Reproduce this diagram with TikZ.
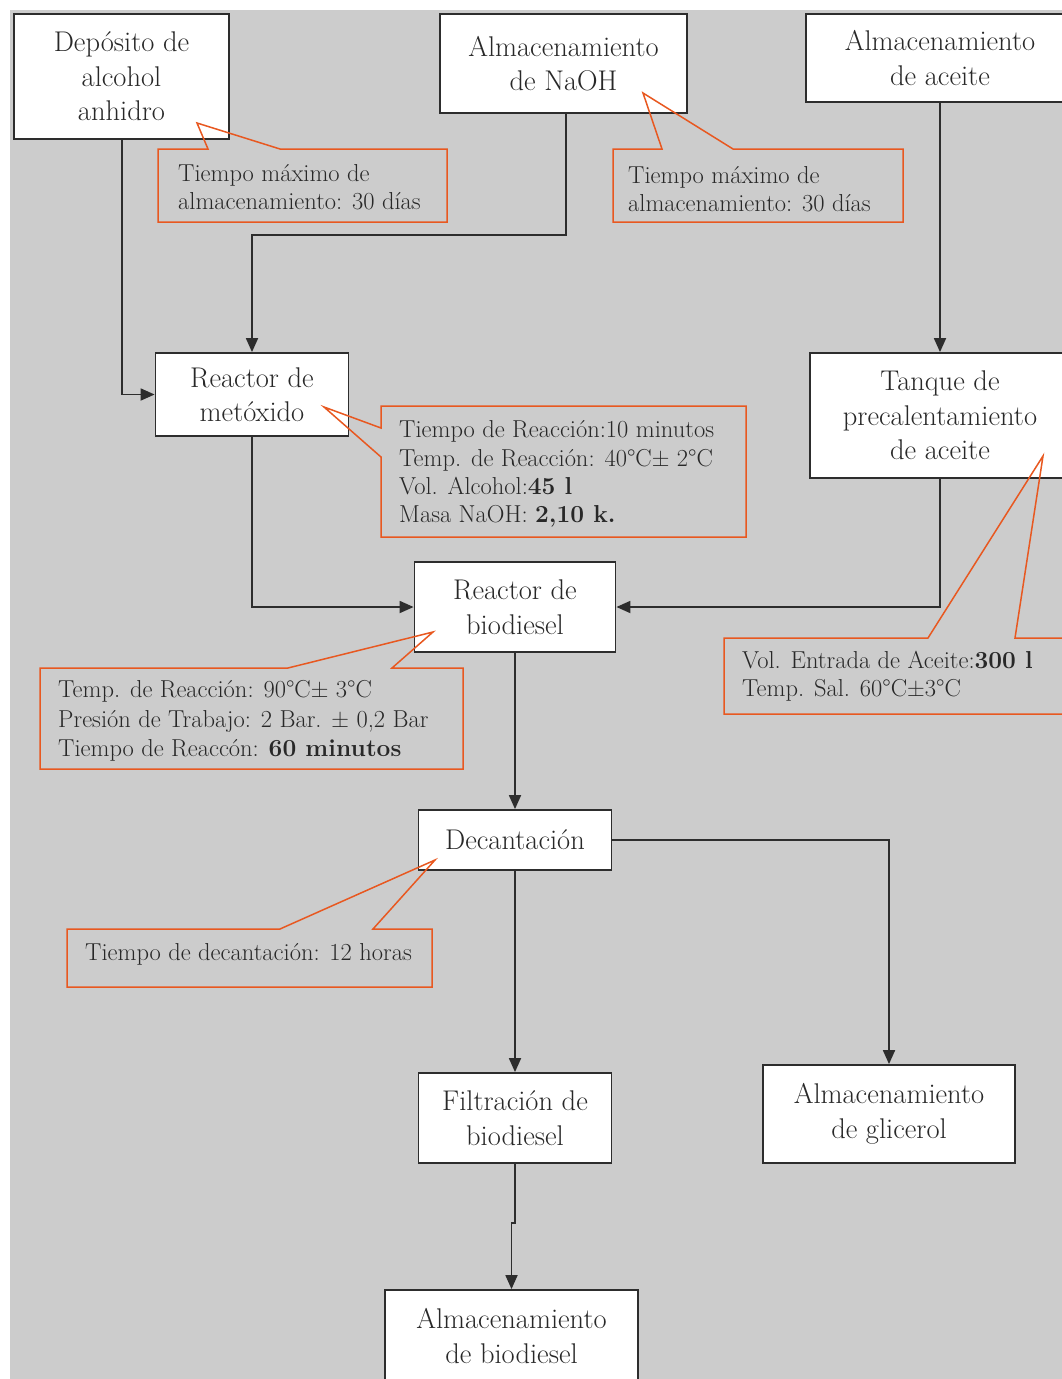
\documentclass[tikz,border=0pt]{standalone}
\usetikzlibrary{arrows.meta}
\definecolor{bggray}{RGB}{204,204,204}
\definecolor{boxline}{RGB}{45,45,45}
\definecolor{callorange}{RGB}{232,88,32}
\definecolor{txt}{RGB}{40,40,40}
\begin{document}
\begin{tikzpicture}[x=1pt,y=-1pt,
  proc/.style={draw=boxline, line width=1.8pt, fill=white, align=center, inner sep=0pt,
    text=txt, font=\fontsize{28.5}{34.5}\selectfont},
  flow/.style={draw=boxline, line width=1.8pt, -{Triangle[length=14pt,width=12pt]}},
  callout/.style={draw=callorange, line width=1.5pt, line join=miter},
  ctext/.style={anchor=west, align=left, inner sep=0pt, text=txt, font=\fontsize{24.5}{27.5}\selectfont}]
\useasboundingbox (0,0) rectangle (1062,1379);
\clip (0,0) rectangle (1062,1379);
\fill[bggray] (10,10) rectangle (1062,1379);

% process boxes
\node[proc, minimum width=215pt, minimum height=125pt] (dep) at (121.5,76.5) {Depósito de\\alcohol\\anhidro};
\node[proc, minimum width=247pt, minimum height=99pt] (naoh) at (563.5,63.5) {Almacenamiento\\de NaOH};
\node[proc, minimum width=268pt, minimum height=88pt] (ace) at (940,58) {Almacenamiento\\de aceite};
\node[proc, minimum width=193pt, minimum height=83pt] (met) at (252,394.5) {Reactor de\\metóxido};
\node[proc, minimum width=260pt, minimum height=125pt] (tan) at (940,415.5) {Tanque de\\precalentamiento\\de aceite};
\node[proc, minimum width=201pt, minimum height=90pt] (bio) at (515,607) {Reactor de\\biodiesel};
\node[proc, minimum width=193pt, minimum height=60pt] (dec) at (515,840) {Decantación};
\node[proc, minimum width=193pt, minimum height=90pt] (fil) at (515,1118) {Filtración de\\biodiesel};
\node[proc, minimum width=252pt, minimum height=98pt] (gli) at (889,1114) {Almacenamiento\\de glicerol};
\node[proc, minimum width=253pt, minimum height=92pt] (ab) at (511.5,1336) {Almacenamiento\\de biodiesel};

% connectors
\draw[flow] ([xshift=0.5pt]dep.south) |- (met.west);
\draw[flow] ([xshift=2.5pt]naoh.south) -- ([xshift=2.5pt]naoh.south |- 0,235) -| (met.north);
\draw[flow] (ace.south) -- (tan.north);
\draw[flow] (met.south) |- (bio.west);
\draw[flow] (tan.south) |- (bio.east);
\draw[flow] (bio.south) -- (dec.north);
\draw[flow] (dec.east) -| (gli.north);
\draw[flow] (dec.south) -- (fil.north);
\draw[flow] (fil.south) -- (fil.south |- 0,1223) -| (ab.north);

% callouts
\draw[callout] (158,149) -- (208,149) -- (197,123) -- (280,149) -- (447,149) -- (447,222) -- (158,222) -- cycle;
\node[ctext] (c1) at (178,187) {Tiempo máximo de\\almacenamiento: 30 días};

\draw[callout] (613,149) -- (662,149) -- (643,93) -- (733,149) -- (903,149) -- (903,222) -- (613,222) -- cycle;
\node[ctext] (c2) at (628,189) {Tiempo máximo de\\almacenamiento: 30 días};

\draw[callout] (381,406) -- (746,406) -- (746,537) -- (381,537) -- (381,457) -- (324,407) -- (381,428) -- cycle;
\node[ctext, font=\fontsize{24.5}{28.3}\selectfont] (c3) at (399,474) {Tiempo de Reacción:10 minutos\\Temp. de Reacción: 40°C± 2°C\\Vol. Alcohol:\textbf{45 l}\\Masa NaOH: \textbf{2,10 k.}};

\draw[callout] (1080,638) -- (1015,638) -- (1043,456) -- (928,638) -- (724,638) -- (724,714) -- (1080,714);
\node[ctext, font=\fontsize{24.5}{28}\selectfont] (c4) at (742,676.5) {Vol. Entrada de Aceite:\textbf{300 l}\\Temp. Sal. 60°C±3°C};

\draw[callout] (40,668) -- (288,668) -- (433,632) -- (392,668) -- (463,668) -- (463,769) -- (40,769) -- cycle;
\node[ctext, font=\fontsize{24.5}{29.5}\selectfont] (c5) at (58,721) {Temp. de Reacción: 90°C± 3°C\\Presión de Trabajo: 2 Bar. ± 0,2 Bar\\Tiempo de Reaccón: \textbf{60 minutos}};

\draw[callout] (67,929) -- (280,929) -- (435,860) -- (373,929) -- (432,929) -- (432,987) -- (67,987) -- cycle;
\node[ctext] (c6) at (85,954) {Tiempo de decantación: 12 horas};
\end{tikzpicture}
\end{document}
